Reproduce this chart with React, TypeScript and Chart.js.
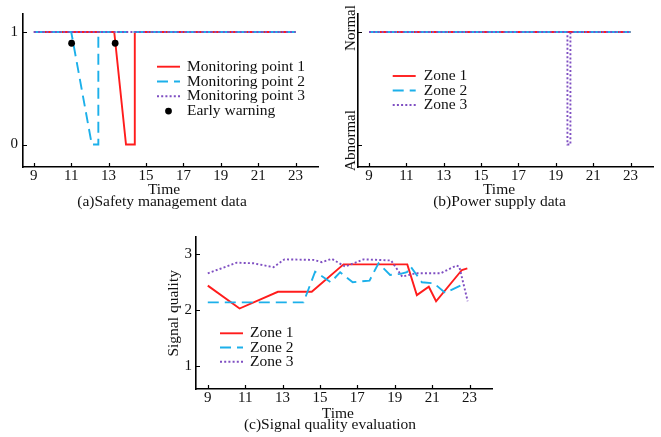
import React, { useEffect, useRef } from 'react';
import { Chart, registerables } from 'chart.js';

Chart.register(...registerables);

// ---------------- data ----------------
const timeTicks = [9, 11, 13, 15, 17, 19, 21, 23];

// (a) Safety management data
const safetyTicks = [0, 1];
const mp1X = [9, 13.3, 13.93, 14.4, 14.4, 23];
const mp1Y = [1, 1, 0, 0, 1, 1];
const mp2X = [9, 11, 12.1, 12.45, 12.45, 23];
const mp2Y = [1, 1, 0, 0, 1, 1];
const mp3X = [9, 23];
const mp3Y = [1, 1];
const warnX = [11.02, 13.35];
const warnY = [0.9, 0.9];

// (b) Power supply data
const powerTicks = [0, 1];
const powerLabels = ['Abnormal', 'Normal'];
const pz1X = [9, 23];
const pz1Y = [1, 1];
const pz2X = [9, 23];
const pz2Y = [1, 1];
const pz3X = [9, 19.62, 19.62, 19.78, 19.78, 23];
const pz3Y = [1, 1, 0, 0, 1, 1];

// (c) Signal quality evaluation
const sigTicks = [1, 2, 3];
const sz1X = [9, 10.7, 12.75, 14.56, 16.26, 19.67, 20.18, 20.82, 21.21, 22.59, 22.88];
const sz1Y = [2.44, 2.03, 2.33, 2.33, 2.82, 2.82, 2.27, 2.42, 2.16, 2.72, 2.75];
const sz2X = [9, 14.12, 14.74, 15.58, 16.08, 16.75, 17.65, 18.13, 18.75, 19.3, 19.65, 19.85, 20.45, 21.1, 21.7, 22.7];
const sz2Y = [2.14, 2.14, 2.69, 2.5, 2.68, 2.5, 2.53, 2.84, 2.63, 2.65, 2.68, 2.78, 2.5, 2.48, 2.31, 2.47];
const sz3X = [9, 10.55, 11.44, 12.51, 13.1, 14.65, 15.1, 15.63, 16.35, 17.33, 18.8, 19.4, 20.1, 21.45, 22.3, 22.45, 22.9];
const sz3Y = [2.66, 2.85, 2.84, 2.77, 2.91, 2.9, 2.86, 2.92, 2.78, 2.91, 2.89, 2.6, 2.66, 2.66, 2.8, 2.78, 2.16];

// ---------------- styles ----------------
const FONT = "'Liberation Serif', 'Times New Roman', Times, serif";
const INK = '#111';
const RED = '#ff1c1c';
const CYAN = '#1cb0ea';
const PURPLE = '#7f4fc2';

// order: lower value is painted on top (purple dotted over cyan over red)
const solidRed = { borderColor: RED, backgroundColor: RED, borderWidth: 1.9, borderDash: [] as number[], order: 3 };
const dashCyan = { borderColor: CYAN, backgroundColor: CYAN, borderWidth: 1.9, borderDash: [11, 6], order: 2 };
const dotPurple = { borderColor: PURPLE, backgroundColor: PURPLE, borderWidth: 1.9, borderDash: [2, 2.2], order: 1 };

const pts = (xs: number[], ys: number[]) => xs.map((x, i) => ({ x, y: ys[i] }));

function lineDs(label: string, xs: number[], ys: number[], style: any) {
  return {
    label,
    data: pts(xs, ys),
    showLine: true,
    fill: false,
    tension: 0,
    pointRadius: 0,
    pointHoverRadius: 0,
    borderCapStyle: 'butt',
    ...style,
  };
}

// ---------------- plugins ----------------
const innerTicksPlugin = {
  id: 'innerTicks',
  afterDatasetsDraw(chart: any, _a: any, opts: any) {
    const { ctx, chartArea } = chart;
    const len = opts.length ?? 4;
    const xs = chart.scales.x;
    const ys = chart.scales.y;
    ctx.save();
    ctx.strokeStyle = '#000';
    ctx.lineWidth = 1.2;
    ctx.setLineDash([]);
    ctx.beginPath();
    for (const t of xs.ticks) {
      const px = Math.round(xs.getPixelForValue(t.value)) + 0.5;
      ctx.moveTo(px, chartArea.bottom);
      ctx.lineTo(px, chartArea.bottom - len);
    }
    for (const t of ys.ticks) {
      const py = Math.round(ys.getPixelForValue(t.value)) + 0.5;
      ctx.moveTo(chartArea.left, py);
      ctx.lineTo(chartArea.left + len, py);
    }
    ctx.stroke();
    ctx.restore();
  },
};

const boxLegendPlugin = {
  id: 'boxLegend',
  afterDraw(chart: any, _a: any, opts: any) {
    const { ctx } = chart;
    const { x, y, rowH, lineLen, gap, size } = opts;
    ctx.save();
    ctx.font = `${size}px ${FONT}`;
    ctx.textBaseline = 'middle';
    ctx.textAlign = 'left';
    chart.data.datasets.forEach((ds: any, i: number) => {
      const cy = y + i * rowH;
      if (ds.showLine === false) {
        ctx.fillStyle = ds.backgroundColor;
        ctx.beginPath();
        ctx.arc(x + lineLen / 2, cy, ds.pointRadius, 0, Math.PI * 2);
        ctx.fill();
      } else {
        ctx.strokeStyle = ds.borderColor;
        ctx.lineWidth = ds.borderWidth;
        ctx.setLineDash(ds.borderDash || []);
        ctx.beginPath();
        ctx.moveTo(x, cy);
        ctx.lineTo(x + lineLen, cy);
        ctx.stroke();
        ctx.setLineDash([]);
      }
      ctx.fillStyle = INK;
      ctx.fillText(ds.label, x + lineLen + gap, cy);
    });
    ctx.restore();
  },
};

const captionsPlugin = {
  id: 'captions',
  afterDraw(chart: any, _a: any, opts: any) {
    const { ctx } = chart;
    ctx.save();
    for (const it of opts.items || []) {
      ctx.save();
      ctx.font = `${it.size}px ${FONT}`;
      ctx.fillStyle = INK;
      ctx.textAlign = 'center';
      ctx.textBaseline = 'alphabetic';
      ctx.translate(it.x, it.y);
      if (it.rotate) ctx.rotate(-Math.PI / 2);
      ctx.fillText(it.text, 0, 0);
      ctx.restore();
    }
    ctx.restore();
  },
};

const rotYLabelsPlugin = {
  id: 'rotYLabels',
  afterDraw(chart: any, _a: any, opts: any) {
    if (!opts.labels) return;
    const { ctx, chartArea } = chart;
    const ys = chart.scales.y;
    ctx.save();
    ctx.font = `${opts.size}px ${FONT}`;
    ctx.fillStyle = INK;
    ctx.textAlign = 'center';
    ctx.textBaseline = 'alphabetic';
    ys.ticks.forEach((t: any, i: number) => {
      ctx.save();
      ctx.translate(chartArea.left - opts.gap, ys.getPixelForValue(t.value) + opts.dy);
      ctx.rotate(-Math.PI / 2);
      ctx.fillText(opts.labels[i], 0, 0);
      ctx.restore();
    });
    ctx.restore();
  },
};

// ---------------- scales ----------------
function xAxis(min: number, max: number, height: number) {
  return {
    type: 'linear',
    position: 'bottom',
    min,
    max,
    grid: { display: false, drawTicks: false },
    border: { display: true, color: '#000', width: 1.6 },
    ticks: { color: INK, font: { family: FONT, size: 15, lineHeight: 1 }, padding: 2, maxRotation: 0, autoSkip: false },
    afterBuildTicks: (s: any) => {
      s.ticks = timeTicks.map((v) => ({ value: v }));
    },
    afterFit: (s: any) => {
      s.height = height;
      s.paddingLeft = 0;
      s.paddingRight = 0;
      s.paddingTop = 0;
      s.paddingBottom = 0;
    },
  };
}

function yAxis(min: number, max: number, values: number[], width: number, showLabels: boolean, pad: number) {
  return {
    type: 'linear',
    position: 'left',
    min,
    max,
    grid: { display: false, drawTicks: false },
    border: { display: true, color: '#000', width: 1.6 },
    ticks: { display: showLabels, color: INK, font: { family: FONT, size: 15, lineHeight: 1 }, padding: pad, autoSkip: false },
    afterBuildTicks: (s: any) => {
      s.ticks = values.map((v) => ({ value: v }));
    },
    afterFit: (s: any) => {
      s.width = width;
      s.paddingLeft = 0;
      s.paddingRight = 0;
      s.paddingTop = 0;
      s.paddingBottom = 0;
    },
  };
}

function baseOptions(padding: any, xs: any, ys: any, plugins: any) {
  return {
    responsive: false,
    maintainAspectRatio: false,
    devicePixelRatio: 1,
    animation: false,
    events: [],
    layout: { padding },
    scales: { x: xs, y: ys },
    plugins: {
      legend: { display: false },
      tooltip: { enabled: false },
      title: { display: false },
      innerTicks: { length: 4 },
      ...plugins,
    },
  };
}

// ---------------- configs ----------------
const configA = () => ({
  type: 'scatter',
  data: {
    datasets: [
      lineDs('Monitoring point 1', mp1X, mp1Y, solidRed),
      lineDs('Monitoring point 2', mp2X, mp2Y, dashCyan),
      lineDs('Monitoring point 3', mp3X, mp3Y, dotPurple),
      {
        label: 'Early warning',
        data: pts(warnX, warnY),
        showLine: false,
        pointRadius: 3.4,
        pointHoverRadius: 3.4,
        backgroundColor: '#000',
        borderColor: '#000',
        borderWidth: 0,
        order: 0,
      },
    ],
  },
  options: baseOptions(
    { top: 14, right: 12, bottom: 0, left: 0 },
    xAxis(8.42, 24.2, 48),
    yAxis(-0.2, 1.16, safetyTicks, 23, true, 5),
    {
      boxLegend: { x: 157, y: 66.7, rowH: 14.8, lineLen: 23, gap: 7, size: 15.5 },
      captions: {
        items: [
          { text: 'Time', x: 164, y: 194, size: 15.5 },
          { text: '(a)Safety management data', x: 162, y: 205.5, size: 15.5 },
        ],
      },
    },
  ),
  plugins: [innerTicksPlugin, boxLegendPlugin, captionsPlugin],
});

const configB = () => ({
  type: 'scatter',
  data: {
    datasets: [
      lineDs('Zone 1', pz1X, pz1Y, solidRed),
      lineDs('Zone 2', pz2X, pz2Y, dashCyan),
      lineDs('Zone 3', pz3X, pz3Y, dotPurple),
    ],
  },
  options: baseOptions(
    { top: 14, right: 8, bottom: 0, left: 0 },
    xAxis(8.41, 24.2, 48),
    yAxis(-0.2, 1.16, powerTicks, 28, false, 4),
    {
      rotYLabels: { labels: powerLabels, size: 15, gap: 3.5, dy: -4 },
      boxLegend: { x: 62.7, y: 76, rowH: 14.5, lineLen: 23, gap: 8, size: 15.5 },
      captions: {
        items: [
          { text: 'Time', x: 169, y: 194, size: 15.5 },
          { text: '(b)Power supply data', x: 169.5, y: 205.5, size: 15.5 },
        ],
      },
    },
  ),
  plugins: [innerTicksPlugin, boxLegendPlugin, captionsPlugin, rotYLabelsPlugin],
});

const configC = () => ({
  type: 'scatter',
  data: {
    datasets: [
      lineDs('Zone 1', sz1X, sz1Y, solidRed),
      lineDs('Zone 2', sz2X, sz2Y, dashCyan),
      lineDs('Zone 3', sz3X, sz3Y, dotPurple),
    ],
  },
  options: baseOptions(
    { top: 22, right: 8, bottom: 0, left: 0 },
    xAxis(8.37, 24.2, 48),
    yAxis(0.59, 3.31, sigTicks, 46, true, 4),
    {
      boxLegend: { x: 70, y: 118.3, rowH: 14.2, lineLen: 23, gap: 7, size: 15.5 },
      captions: {
        items: [
          { text: 'Signal quality', x: 28, y: 98.3, size: 15.5, rotate: true },
          { text: 'Time', x: 187.8, y: 202.7, size: 15.5 },
          { text: '(c)Signal quality evaluation', x: 180, y: 213.7, size: 15.5 },
        ],
      },
    },
  ),
  plugins: [innerTicksPlugin, boxLegendPlugin, captionsPlugin],
});

// ---------------- components ----------------
function Panel({ left, top, width, height, config }: { left: number; top: number; width: number; height: number; config: () => any }) {
  const ref = useRef<HTMLCanvasElement>(null);
  useEffect(() => {
    const chart = new Chart(ref.current as HTMLCanvasElement, config());
    return () => chart.destroy();
  }, [config]);
  return (
    <canvas
      ref={ref}
      width={width}
      height={height}
      style={{ position: 'absolute', left, top, width, height, display: 'block' }}
    />
  );
}

export default function App() {
  return (
    <div style={{ position: 'absolute', left: 0, top: 0, width: 661, height: 437, background: '#fff', overflow: 'hidden' }}>
      <Panel left={0} top={0} width={330} height={215} config={configA} />
      <Panel left={330} top={0} width={331} height={215} config={configB} />
      <Panel left={150} top={215} width={350} height={222} config={configC} />
    </div>
  );
}
